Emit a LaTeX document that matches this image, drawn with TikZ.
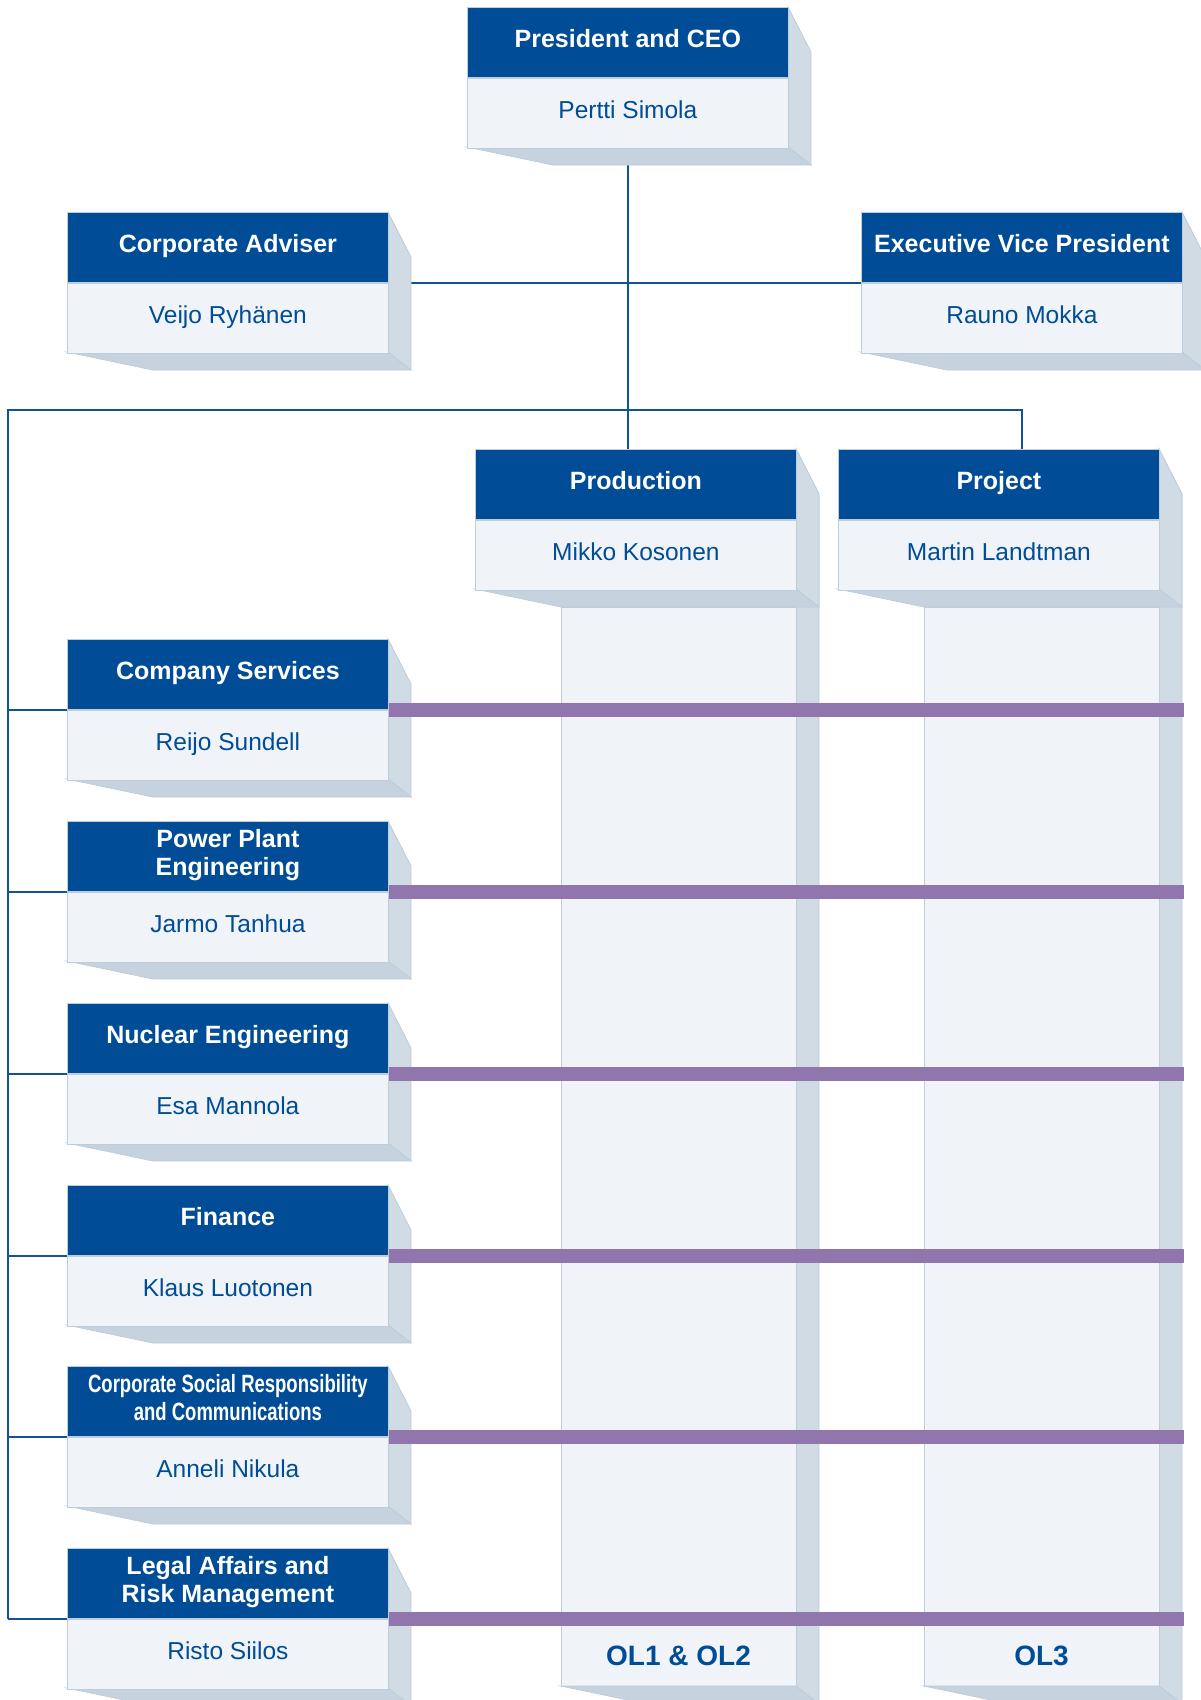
\documentclass[tikz,border=0pt]{standalone}
\usepackage{fontspec}
\setmainfont{Liberation Sans}
\usepackage{graphicx}
\usetikzlibrary{positioning}
\pgfdeclarelayer{back}
\pgfsetlayers{back,main}

\begin{document}
\begin{tikzpicture}[x=1pt, y=-1pt,
  head/.style={fill=tvoblue, draw=edgeline, line width=0.8pt, text=white,
    minimum width=321pt, minimum height=70pt, inner sep=0pt, align=center,
    text height=18pt, text depth=7pt,
    font=\bfseries\fontsize{25}{28}\selectfont},
  person/.style={fill=bodyfill, draw=edgeline, line width=0.8pt, text=tvoblue,
    minimum width=321pt, minimum height=70pt, inner sep=0pt,
    text height=18pt, text depth=7pt,
    font=\fontsize{24.5}{28}\selectfont},
  sideface/.style={fill=sidefill, draw=edgeline, line width=0.8pt},
  bottomface/.style={fill=bottomfill, draw=edgeline, line width=0.8pt},
  bodyface/.style={fill=bodyfill, draw=edgeline, line width=0.8pt},
  sitelabel/.style={text=tvoblue, inner sep=0pt, font=\bfseries\fontsize{28}{30}\selectfont},
  conn/.style={draw=linkblue, line width=2.6pt},
  bar/.style={draw=barpurple, line width=14pt}]

%─────────────
% Controls
%─────────────
\def\colbottom{1686}  % where the two site columns end
\definecolor{tvoblue}{RGB}{0,76,150}
\definecolor{linkblue}{RGB}{20,82,152}
\definecolor{bodyfill}{RGB}{240,244,248}
\definecolor{sidefill}{RGB}{208,219,228}
\definecolor{bottomfill}{RGB}{198,211,222}
\definecolor{edgeline}{RGB}{190,205,218}
\definecolor{barpurple}{RGB}{145,118,173}

\useasboundingbox (0,0) rectangle (1201,1700);

% two-line titles
\newcommand{\twoLines}[2]{\begin{tabular}{@{}c@{}}#1\\#2\end{tabular}}

%─────────────────────────────────────────────────────────────
% One box: name, left, top, title, person
%─────────────────────────────────────────────────────────────
\newcommand{\drawOrgBox}[5]{%
  % 3D faces (right side and bottom)
  \filldraw[sideface] ({#2+321},{#3}) -- ++(23,45) -- ({#2+344},{#3+158}) -- ({#2+321},{#3+140}) -- cycle;
  \filldraw[bottomface] ({#2},{#3+140}) -- ({#2+321},{#3+140}) -- ({#2+344},{#3+158}) -- ({#2+86},{#3+158}) -- cycle;
  \node[head, anchor=north west] (#1-h) at ({#2},{#3}) {#4};
  \node[person, below=0pt of #1-h] (#1-b) {#5};
}

%─────────────────────────────────────────────────────────────
% Box with a column down to the bottom: name, left, top, title, person, site
%─────────────────────────────────────────────────────────────
\newcommand{\drawColumn}[6]{%
  \filldraw[sideface] ({#2+321},{#3}) -- ++(23,45) -- ({#2+344},{\colbottom+18}) -- ({#2+321},\colbottom) -- cycle;
  \filldraw[bodyface] ({#2+86},{#3+158}) rectangle ({#2+321},\colbottom);
  \filldraw[bottomface] ({#2+86},\colbottom) -- ({#2+321},\colbottom) -- ({#2+344},{\colbottom+18}) -- ({#2+172},{\colbottom+18}) -- cycle;
  \drawOrgBox{#1}{#2}{#3}{#4}{#5}
  \node[sitelabel] (#1-site) at ({#2+203.5},{\colbottom-30}) {#6};
}

%─────────────
% Management
%─────────────
\drawOrgBox{ceo}{467}{7}{President and CEO}{Pertti Simola}
\drawOrgBox{adviser}{67}{212}{Corporate Adviser}{Veijo Ryhänen}
\drawOrgBox{evp}{861}{212}{Executive Vice President}{Rauno Mokka}

%─────────────
% Sites
%─────────────
\drawColumn{prod}{475}{449}{Production}{Mikko Kosonen}{OL1 \& OL2}
\drawColumn{proj}{838}{449}{Project}{Martin Landtman}{OL3}

%─────────────
% Functions
%─────────────
\drawOrgBox{comp}{67}{639}{Company Services}{Reijo Sundell}
\drawOrgBox{power}{67}{821}{\twoLines{Power Plant}{Engineering}}{Jarmo Tanhua}
\drawOrgBox{nuclear}{67}{1003}{Nuclear Engineering}{Esa Mannola}
\drawOrgBox{finance}{67}{1185}{Finance}{Klaus Luotonen}
\drawOrgBox{csr}{67}{1366}{\twoLines{\scalebox{0.74}[1]{Corporate Social Responsibility}}{\scalebox{0.74}[1]{and Communications}}}{Anneli Nikula}
\drawOrgBox{legal}{67}{1548}{\twoLines{Legal Affairs and}{Risk Management}}{Risto Siilos}

\coordinate (busLeft) at (8,410);
\coordinate (barEnd) at (1184,0);

% connectors go behind the boxes
\begin{pgfonlayer}{back}
  \draw[conn] (ceo-b.south) -- (ceo-b.south |- prod-h.north);
  \draw[conn] (adviser-h.south east) -- (evp-h.south west);
  \draw[conn] ([xshift=23pt]proj-h.north) |- (busLeft) -- (busLeft |- legal-h.south west);
  \foreach \b in {comp,power,nuclear,finance,csr,legal} {
    \draw[conn] (busLeft |- \b-h.south west) -- (\b-h.south west);
  }
\end{pgfonlayer}

% matrix bars across the sites
\foreach \b in {comp,power,nuclear,finance,csr,legal} {
  \draw[bar] (\b-h.south east) -- (\b-h.south east -| barEnd);
}

\end{tikzpicture}
\end{document}
